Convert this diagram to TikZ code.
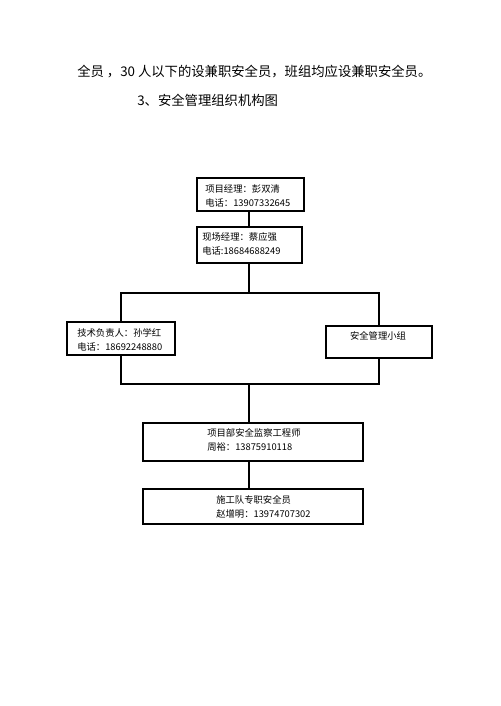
\documentclass[tikz,border=0pt]{standalone}
\usepackage{fontspec}
\usepackage{tikz}
\setmainfont{Noto Sans CJK SC}
\newfontfamily\cjk{Noto Sans CJK SC}

\tikzset{
  box/.style={draw, line width=1.3pt, inner sep=0pt},
  txt/.style={anchor=west, inner sep=0pt, align=left, font=\cjk\fontsize{7}{10.5}\selectfont},
  head/.style={anchor=west, inner sep=0pt, font=\cjk\fontsize{10}{12}\selectfont},
  link/.style={line width=0.9pt}
}

\begin{document}
\begin{tikzpicture}[x=0.75pt, y=-0.75pt]
    \useasboundingbox[fill=white] (0,0) rectangle (500,706);
    % Heading
    \node[head] (intro) at ( 77, 72) {全员 ，30 人以下的设兼职安全员，班组均应设兼职安全员。};
    \node[head] (title) at (137,100) {3、安全管理组织机构图};
    % Boxes
    \node[box, minimum width=107*0.75pt, minimum height=33*0.75pt] (pm)   at (250.5,194.5) {};
    \node[box, minimum width=105*0.75pt, minimum height=36*0.75pt] (site) at (249.5,245.0) {};
    \node[box, minimum width=108*0.75pt, minimum height=33*0.75pt] (tech) at (121.0,338.5) {};
    \node[box, minimum width=106*0.75pt, minimum height=32*0.75pt] (grp)  at (379.0,342.0) {};
    \node[box, minimum width=220*0.75pt, minimum height=38*0.75pt] (sup)  at (253.0,442.0) {};
    \node[box, minimum width=220*0.75pt, minimum height=35*0.75pt] (crew) at (253.0,506.5) {};
    % Box texts
    \node[txt] (pm-t)   at (205,195.5) {项目经理：彭双清\\电话：13907332645};
    \node[txt] (site-t) at (202,244.0) {现场经理：蔡应强\\电话:18684688249};
    \node[txt] (tech-t) at ( 77,339.5) {技术负责人：孙学红\\电话：18692248880};
    \node[txt, anchor=center] (grp-t) at (378,336) {安全管理小组};
    \node[txt] (sup-t)  at (207,440.0) {项目部安全监察工程师\\周裕：13875910118};
    \node[txt] (crew-t) at (216,506.5) {施工队专职安全员\\赵增明：13974707302};
    % Connectors
    \coordinate (top) at (249,293);
    \coordinate (bot) at (249,384);
    \draw[link] (pm.south -| top) -- (site.north -| top);
    \draw[link] (site.south -| top) -- (top);
    \draw[link] (tech.north) |- (top) -| (grp.north);
    \draw[link] (tech.south) |- (bot) -| (grp.south);
    \draw[link] (bot) -- (sup.north -| bot);
    \draw[link] (sup.south -| bot) -- (crew.north -| bot);
\end{tikzpicture}
\end{document}
